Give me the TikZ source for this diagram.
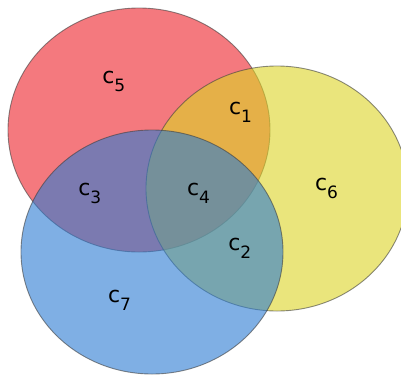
\documentclass[tikz,border=0pt]{standalone}
\usepackage{fontspec}
\setmainfont{DejaVu Sans}
\definecolor{cred}{RGB}{237,33,40}
\definecolor{cyel}{RGB}{220,213,37}
\definecolor{cblu}{RGB}{43,123,210}
\newcommand{\clab}[1]{{\fontsize{22}{26}\selectfont c}\raisebox{-8pt}{\fontsize{17}{20}\selectfont #1}}
\begin{document}
\begin{tikzpicture}[x=1pt,y=-1pt,
  setc/.style={fill opacity=0.6, draw=black!75, draw opacity=0.6, line width=0.9pt},
  lab/.style={inner sep=0pt, anchor=base west}]
\useasboundingbox (0,0) rectangle (401,375);
\begin{scope}
\clip (0,0) rectangle (401,375);
\fill[white] (0,0) rectangle (401,375);
\draw[setc, fill=cred] (139,130) ellipse [x radius=131, y radius=122];
\draw[setc, fill=cyel] (277,188.5) ellipse [x radius=131, y radius=122.5];
\draw[setc, fill=cblu] (152,252) ellipse [x radius=131, y radius=122];
\end{scope}
\node[lab] (c5) at (102.1,83.3) {\clab{5}};
\node[lab] (c1) at (228.8,114.3) {\clab{1}};
\node[lab] (c6) at (314.8,190) {\clab{6}};
\node[lab] (c3) at (78.1,195.7) {\clab{3}};
\node[lab] (c4) at (186.8,195) {\clab{4}};
\node[lab] (c2) at (228.1,250.7) {\clab{2}};
\node[lab] (c7) at (107.8,302.3) {\clab{7}};
\end{tikzpicture}
\end{document}
